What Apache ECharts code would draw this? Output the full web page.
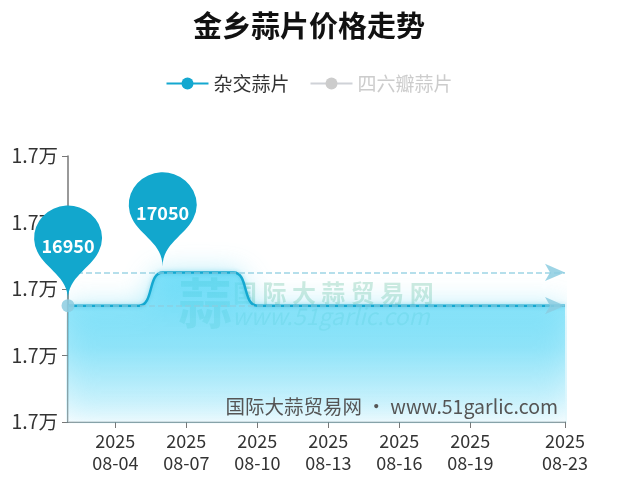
<!DOCTYPE html>
<html>
<head>
<meta charset="utf-8">
<script src="https://cdn.jsdelivr.net/npm/echarts@6/dist/echarts.min.js"></script>
<style>html,body{margin:0;padding:0;background:#fff;}#c{width:618px;height:490px;}</style>
</head>
<body>
<div id="c"></div>
<script>
var titleText = '金乡蒜片价格走势';
var seriesNames = ['杂交蒜片', '四六瓣蒜片'];
var dates = ['2025-08-02','2025-08-03','2025-08-04','2025-08-05','2025-08-06','2025-08-07','2025-08-08','2025-08-09','2025-08-10','2025-08-11','2025-08-12','2025-08-13','2025-08-14','2025-08-15','2025-08-16','2025-08-17','2025-08-18','2025-08-19','2025-08-20','2025-08-21','2025-08-22','2025-08-23'];
var hybridValues = [16950,16950,16950,16950,17050,17050,17050,17050,16950,16950,16950,16950,16950,16950,16950,16950,16950,16950,16950,16950,16950,16950];
var sixCloveValues = [];
var shownLabelIdx = [2,5,8,11,14,17,21];
var yMin = 16600, yMax = 17400, yInterval = 200;

var FONT = '"Noto Sans CJK SC", "Noto Sans", sans-serif';
var chart = echarts.init(document.getElementById('c'), null, {renderer: 'canvas'});
function showIdx(i){ return shownLabelIdx.indexOf(i) >= 0; }
var option = {
  animation: false,
  textStyle: {fontFamily: FONT},
  title: {
    text: titleText, left: 'center', top: 6,
    textStyle: {fontSize: 29, fontWeight: 'bold', color: '#111', fontFamily: FONT}
  },
  legend: {
    top: 69, left: 'center', itemWidth: 42, itemHeight: 15, itemGap: 20,
    data: seriesNames,
    selected: {'四六瓣蒜片': false},
    inactiveColor: '#ccc',
    textStyle: {fontSize: 19, color: '#333', fontFamily: FONT}
  },
  grid: {left: 68, right: 53, top: 156, bottom: 68, containLabel: false},
  xAxis: {
    type: 'category', boundaryGap: false, data: dates,
    axisLine: {lineStyle: {color: '#777', width: 1.5}},
    axisTick: {show: true, interval: function(i){return showIdx(i);}, length: 6, lineStyle: {color: '#777'}},
    axisLabel: {
      interval: function(i){return showIdx(i);},
      formatter: function(v){ var p = v.split('-'); return p[0] + '\n' + p[1] + '-' + p[2]; },
      fontSize: 18, color: '#333', lineHeight: 22, margin: 8, fontFamily: FONT
    },
    splitLine: {show: false}
  },
  yAxis: {
    type: 'value', min: yMin, max: yMax, interval: yInterval,
    axisLine: {show: true, lineStyle: {color: '#777', width: 1.5}},
    axisTick: {show: true, length: 6, lineStyle: {color: '#777'}},
    axisLabel: {
      formatter: function(v){ return (v/10000).toFixed(1) + '万'; },
      fontSize: 19.5, color: '#333', margin: 10, fontFamily: FONT
    },
    splitLine: {show: false}
  },
  graphic: [
    {type: 'text', left: 178, top: 276, z: 1, style: {text: '蒜', fontSize: 54, fontWeight: 'bold', fill: 'rgba(90,185,150,0.38)', fontFamily: FONT}},
    {type: 'text', left: 233, top: 281, z: 1, style: {text: '国 际 大 蒜 贸 易 网', fontSize: 24, fontWeight: 'bold', fill: 'rgba(90,185,150,0.3)', fontFamily: FONT}},
    {type: 'text', left: 232, top: 305, z: 1, style: {text: 'www.51garlic.com', fontSize: 23, fontStyle: 'italic', fill: 'rgba(90,185,150,0.32)', fontFamily: FONT}},
    {type: 'text', right: 60, top: 397, z: 100, style: {text: '国际大蒜贸易网 · www.51garlic.com', fontSize: 19.5, fill: '#555', fontFamily: FONT}}
  ],
  series: [
    {
      name: seriesNames[0], type: 'line', data: hybridValues,
      smooth: true, showSymbol: false, symbol: 'circle', symbolSize: 15,
      itemStyle: {color: '#14a8d0'},
      lineStyle: {color: '#14a8d0', width: 2.5, shadowColor: 'rgba(20,168,208,0.4)', shadowBlur: 4},
      areaStyle: {
        color: new echarts.graphic.LinearGradient(0, 0, 0, 1, [
          {offset: 0, color: 'rgba(70,212,247,0.95)'},
          {offset: 0.5, color: 'rgba(120,222,248,0.9)'},
          {offset: 1, color: 'rgba(245,252,255,0.95)'}
        ]),
        shadowColor: 'rgba(60,205,240,0.6)', shadowBlur: 28
      },
      markPoint: {
        symbol: 'pin', symbolSize: [113, 108], symbolOffset: [0, -6],
        itemStyle: {color: '#12a7cd'},
        label: {color: '#fff', fontSize: 18, fontWeight: 'bold', fontFamily: FONT, offset: [0, 3]},
        data: [{type: 'max', name: '最高'}, {type: 'min', name: '最低'}]
      },
      markLine: {
        symbol: ['circle', 'arrow'], symbolSize: [13, 20], silent: true,
        lineStyle: {color: 'rgba(140,205,225,0.85)', type: 'dashed', width: 1.5},
        itemStyle: {color: 'rgba(150,210,225,0.9)'},
        label: {show: false},
        data: [{type: 'max'}, {type: 'min'}]
      }
    },
    {
      name: seriesNames[1], type: 'line', data: sixCloveValues,
      smooth: true, showSymbol: false, symbol: 'circle', symbolSize: 15,
      itemStyle: {color: '#ccc'}, lineStyle: {color: '#ccc'}
    }
  ]
};
chart.setOption(option);
</script>
</body>
</html>
